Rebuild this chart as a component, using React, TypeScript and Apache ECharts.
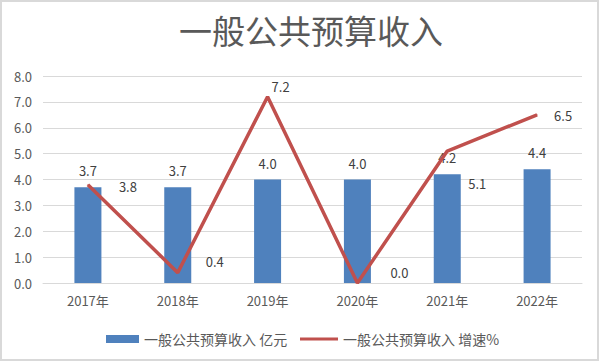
import React, { useEffect, useRef } from "react";
import * as echarts from "echarts";

const categories = ["2017年", "2018年", "2019年", "2020年", "2021年", "2022年"];
const revenue = [3.7, 3.7, 4.0, 4.0, 4.2, 4.4];
const growth = [3.8, 0.4, 7.2, 0.0, 5.1, 6.5];
const yTicks = { min: 0, max: 8, interval: 1 };
const barName = "一般公共预算收入 亿元";
const lineName = "一般公共预算收入 增速%";
const titleText = "一般公共预算收入";

// label placement offsets for the line series (style, not data)
const lineLabelOffsets: [number, number][] = [
  [40, 2],
  [37, -11],
  [13, -10],
  [42, -11],
  [30, 32],
  [26, 1],
];

const FONT = "'Noto Sans CJK SC', 'Noto Sans', sans-serif";

export default function App() {
  const ref = useRef<HTMLDivElement>(null);
  useEffect(() => {
    if (!ref.current) return;
    const chart = echarts.init(ref.current, undefined, { renderer: "svg" });
    chart.setOption({
      animation: false,
      backgroundColor: "#ffffff",
      textStyle: { fontFamily: FONT },
      title: {
        text: titleText,
        left: 174,
        top: 8,
        textStyle: { fontSize: 33, fontWeight: "normal", color: "#595959", fontFamily: FONT },
      },
      graphic: [
        {
          type: "rect",
          shape: { x: 1, y: 1, width: 597, height: 359 },
          style: { fill: "none", stroke: "#d9d9d9", lineWidth: 2 },
          silent: true,
        },
      ],
      grid: { left: 43, right: 21, top: 76, bottom: 80, containLabel: false },
      legend: [
        {
          data: [barName],
          left: 101,
          top: 327,
          itemWidth: 33,
          itemHeight: 8,
          icon: "rect",
          textStyle: { fontSize: 14, color: "#595959", fontFamily: FONT },
        },
        {
          data: [lineName],
          left: 295,
          top: 327,
          itemWidth: 38,
          itemHeight: 3,
          icon: "rect",
          textStyle: { fontSize: 14, color: "#595959", fontFamily: FONT },
        },
      ],
      xAxis: {
        type: "category",
        data: categories,
        axisTick: { show: false },
        axisLine: { lineStyle: { color: "#d9d9d9", width: 1 } },
        axisLabel: { color: "#595959", fontSize: 13, margin: 11, fontFamily: FONT },
      },
      yAxis: {
        type: "value",
        min: yTicks.min,
        max: yTicks.max,
        interval: yTicks.interval,
        axisLine: { show: false },
        axisTick: { show: false },
        splitLine: { lineStyle: { color: "#d9d9d9", width: 1 } },
        axisLabel: {
          color: "#595959",
          fontSize: 13,
          margin: 11,
          fontFamily: FONT,
          formatter: (v: number) => v.toFixed(1),
        },
      },
      series: [
        {
          name: barName,
          type: "bar",
          data: revenue,
          barWidth: 27,
          itemStyle: { color: "#4F81BD" },
          label: {
            show: true,
            position: "top",
            distance: 10,
            color: "#404040",
            fontSize: 13,
            fontFamily: FONT,
            formatter: (p: any) => Number(p.value).toFixed(1),
          },
          z: 2,
        },
        {
          name: lineName,
          type: "line",
          data: growth.map((v, i) => ({
            value: v,
            label: { offset: lineLabelOffsets[i] },
          })),
          symbol: "circle",
          symbolSize: 1,
          showSymbol: true,
          itemStyle: { color: "#C0504D" },
          lineStyle: { color: "#C0504D", width: 3.5 },
          label: {
            show: true,
            position: "inside",
            color: "#404040",
            fontSize: 13,
            fontFamily: FONT,
            formatter: (p: any) => Number(p.value).toFixed(1),
          },
          z: 3,
        },
      ],
    });
    return () => chart.dispose();
  }, []);
  return (
    <div
      ref={ref}
      style={{ position: "absolute", left: 0, top: 0, width: 603, height: 363 }}
    />
  );
}
